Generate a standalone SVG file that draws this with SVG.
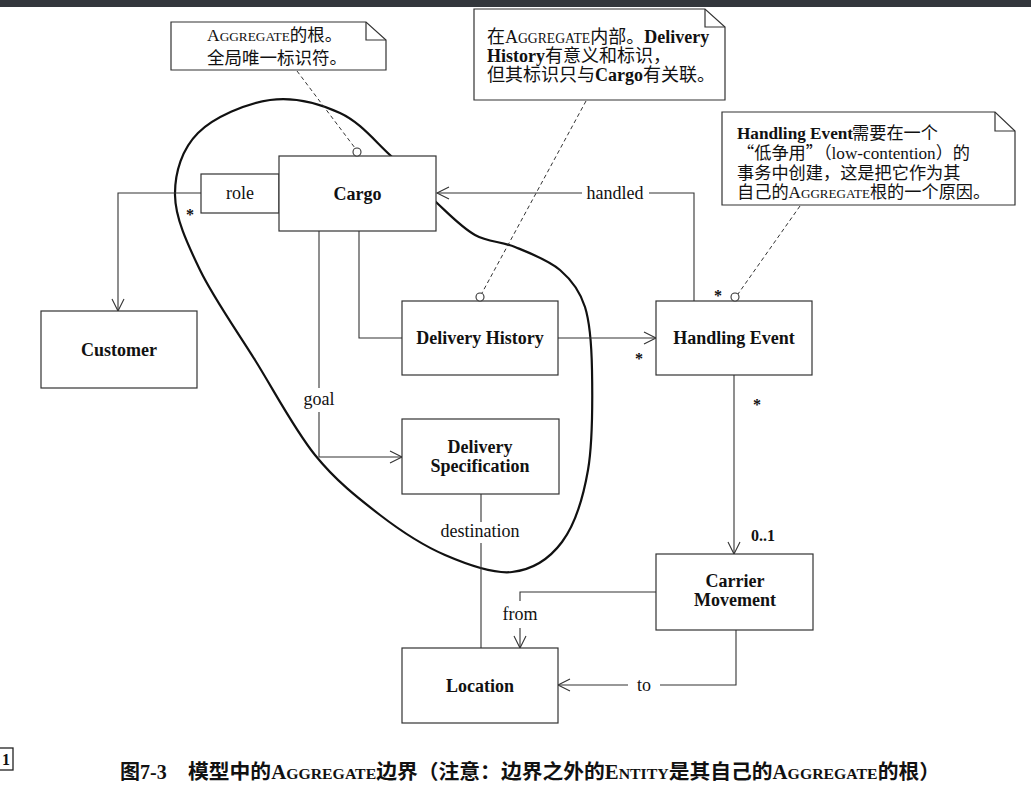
<svg xmlns="http://www.w3.org/2000/svg" width="1031" height="789" viewBox="0 0 1031 789">
<defs>
<marker id="open" markerUnits="userSpaceOnUse" markerWidth="16" markerHeight="14" refX="13" refY="6" orient="auto" overflow="visible">
<path d="M1,0 L13,6 L1,12" fill="none" stroke="#333" stroke-width="1.1"/>
</marker>
<style>
.box{fill:#fff;stroke:#333;stroke-width:1.2}
.note{fill:#fff;stroke:#333;stroke-width:1.2}
.fold{fill:none;stroke:#333;stroke-width:1.2}
.ln{fill:none;stroke:#333;stroke-width:1.1}
.dash{fill:none;stroke:#333;stroke-width:1;stroke-dasharray:4 3}
.circ{fill:#fff;stroke:#333;stroke-width:1.1}
.name{font-family:"Liberation Serif",serif;font-weight:bold;font-size:18px;fill:#111;text-anchor:middle}
.lbl{font-family:"Liberation Serif",serif;font-size:18px;fill:#111;text-anchor:middle}
.mult{font-family:"Liberation Serif",serif;font-weight:bold;font-size:16px;fill:#111;text-anchor:middle}
.nt{font-family:"Liberation Serif","Noto Sans CJK SC",sans-serif;fill:#111}
.b{font-weight:bold}
.sc{font-size:0.76em}
.q{font-family:"Noto Sans CJK SC",sans-serif}
.cap{font-family:"Liberation Serif","Noto Sans CJK SC",sans-serif;font-size:20px;font-weight:bold;fill:#111}
</style>
</defs>
<rect x="0" y="0" width="1031" height="789" fill="#fff"/>
<rect x="0" y="0" width="1031" height="7" fill="#33373c"/>

<g id="aggregate-boundary">
<path d="M270,100 C293.7,96.7 320,103.8 340,113 C360,122.2 373.8,140 390,155 C406.2,170 422.8,189.7 437,203 C451.2,216.3 462,227.7 475,235 C488,242.3 500.8,241.2 515,247 C529.2,252.8 548.3,260 560,270 C571.7,280 579.7,290.3 585,307 C590.3,323.7 591.5,342.8 592,370 C592.5,397.2 593,441.3 588,470 C583,498.7 574.7,525 562,542 C549.3,559 531.5,569.8 512,572 C492.5,574.2 467,564.5 445,555 C423,545.5 401.7,531.7 380,515 C358.3,498.3 335.8,480.8 315,455 C294.2,429.2 274.2,390.8 255,360 C235.8,329.2 213.3,297.5 200,270 C186.7,242.5 175.3,217.8 175,195 C174.7,172.2 182.2,148.8 198,133 C213.8,117.2 246.3,103.3 270,100 Z" fill="none" stroke="#111" stroke-width="2.2"/>
</g>

<g id="connectors">
<path class="ln" d="M201,193 H118 V311" marker-end="url(#open)"/>
<path class="ln" d="M359,231 V338 H402"/>
<path class="ln" d="M319,231 V388"/>
<path class="ln" d="M319,412 V457 H402" marker-end="url(#open)"/>
<text class="lbl" x="319" y="405">goal</text>
<path class="ln" d="M558,338 H656" marker-end="url(#open)"/>
<path class="ln" d="M694,301 V193 H649"/>
<path class="ln" d="M582,193 H437" marker-end="url(#open)"/>
<text class="lbl" x="615" y="199">handled</text>
<path class="ln" d="M734,375 V554" marker-end="url(#open)"/>
<path class="ln" d="M656,592 H520 V601"/>
<path class="ln" d="M520,628 V648" marker-end="url(#open)"/>
<text class="lbl" x="520" y="620">from</text>
<path class="ln" d="M736,630 V685 H660"/>
<path class="ln" d="M628,685 H558" marker-end="url(#open)"/>
<text class="lbl" x="644" y="691">to</text>
<path class="ln" d="M481,494 V522"/>
<path class="ln" d="M481,543 V648"/>
<text class="lbl" x="480" y="537">destination</text>
<text class="mult" x="190" y="220">*</text>
<text class="mult" x="639" y="364">*</text>
<text class="mult" x="718" y="301">*</text>
<text class="mult" x="757" y="410">*</text>
<text class="mult" x="763" y="541">0..1</text>
<path class="dash" d="M297,71 L355,148"/>
<path class="dash" d="M586,101 L482,293"/>
<path class="dash" d="M800,206 L738,294"/>
</g>

<g id="note-cargo">
<path class="note" d="M171,22 H366 L386,40 V70 H171 Z"/>
<path class="fold" d="M366,22 V40 H386"/>
<text class="nt" x="207" y="41" font-size="17.5">A<tspan class="sc">GGREGATE</tspan>的根。</text>
<text class="nt" x="207" y="64" font-size="17.5">全局唯一标识符。</text>
</g>

<g id="note-delivery-history">
<path class="note" d="M474,9 H705 L725,27 V100 H474 Z"/>
<path class="fold" d="M705,9 V27 H725"/>
<text class="nt" x="487" y="43" font-size="18">在A<tspan class="sc">GGREGATE</tspan>内部。<tspan class="b">Delivery</tspan></text>
<text class="nt" x="487" y="62" font-size="18"><tspan class="b">History</tspan>有意义和标识，</text>
<text class="nt" x="487" y="81" font-size="18">但其标识只与<tspan class="b">Cargo</tspan>有关联。</text>
</g>

<g id="note-handling-event">
<path class="note" d="M722,112 H995 L1015,131 V205 H722 Z"/>
<path class="fold" d="M995,112 V131 H1015"/>
<text class="nt b" x="737" y="139" font-size="17.2">Handling Event</text>
<text class="nt" x="852" y="139" font-size="17.2">需要在一个</text>
<text class="nt" x="737" y="159" font-size="17.2"><tspan class="q">“</tspan>低争用<tspan class="q">”</tspan>（low-contention）的</text>
<text class="nt" x="737" y="179" font-size="17.2">事务中创建，这是把它作为其</text>
<text class="nt" x="737" y="198" font-size="17.2">自己的A<tspan class="sc">GGREGATE</tspan>根的一个原因。</text>
</g>

<g id="node-role">
<rect class="box" x="201" y="174" width="78" height="39"/>
<text class="lbl" x="240" y="199">role</text>
</g>

<g id="node-cargo">
<rect class="box" x="279" y="156" width="157" height="75"/>
<text class="name" x="357.5" y="200">Cargo</text>
<circle class="circ" cx="357" cy="152" r="4"/>
</g>

<g id="node-customer">
<rect class="box" x="41" y="311" width="156" height="77"/>
<text class="name" x="119" y="356">Customer</text>
</g>

<g id="node-delivery-history">
<rect class="box" x="402" y="301" width="156" height="74"/>
<text class="name" x="480" y="344">Delivery History</text>
<circle class="circ" cx="480" cy="297" r="4"/>
</g>

<g id="node-handling-event">
<rect class="box" x="656" y="301" width="156" height="74"/>
<text class="name" x="734" y="344">Handling Event</text>
<circle class="circ" cx="735" cy="297" r="4"/>
</g>

<g id="node-delivery-specification">
<rect class="box" x="402" y="419" width="157" height="75"/>
<text class="name" x="480" y="452.5">Delivery</text>
<text class="name" x="480" y="472">Specification</text>
</g>

<g id="node-carrier-movement">
<rect class="box" x="656" y="554" width="157" height="76"/>
<text class="name" x="735" y="587">Carrier</text>
<text class="name" x="735" y="606">Movement</text>
</g>

<g id="node-location">
<rect class="box" x="402" y="648" width="156" height="75"/>
<text class="name" x="480" y="692">Location</text>
</g>

<g id="caption">
<rect x="-2" y="748" width="15" height="22" fill="none" stroke="#222" stroke-width="1.3"/>
<text x="2" y="765" font-family="Liberation Serif,serif" font-size="16" font-weight="bold" fill="#111">1</text>
<text class="cap" x="120" y="779">图7-3</text>
<text class="cap" x="188" y="779" textLength="752" lengthAdjust="spacingAndGlyphs">模型中的A<tspan class="sc">GGREGATE</tspan>边界（注意：边界之外的E<tspan class="sc">NTITY</tspan>是其自己的A<tspan class="sc">GGREGATE</tspan>的根）</text>
</g>
</svg>
